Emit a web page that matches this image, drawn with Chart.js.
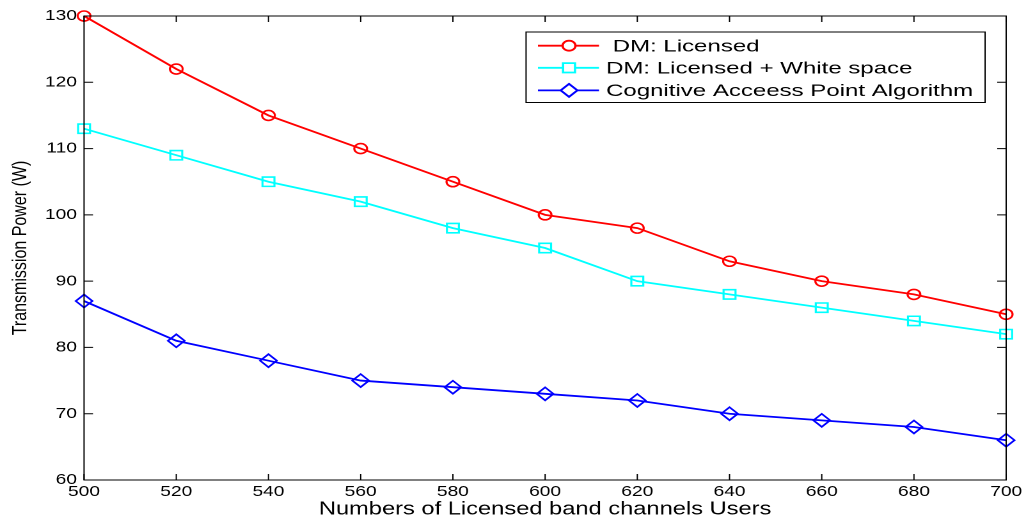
<!DOCTYPE html>
<html>
<head>
<meta charset="utf-8">
<script src="https://cdn.jsdelivr.net/npm/chart.js@4.4.1/dist/chart.umd.min.js"></script>
<style>
  html, body { margin: 0; padding: 0; background: #ffffff; overflow: hidden; }
  /* la figura original está estirada en horizontal, se reproduce con scaleX */
  #wrap { width: 802px; height: 522px; transform: scaleX(1.2793); transform-origin: 0 0; }
</style>
</head>
<body>
<div id="wrap"><canvas id="chartPower" width="802" height="522"></canvas></div>
<script>
// ============================================================
// DATOS
// ============================================================
const usuarios = [500, 520, 540, 560, 580, 600, 620, 640, 660, 680, 700];
const dmLicensed = [130, 122, 115, 110, 105, 100, 98, 93, 90, 88, 85];
const dmWhiteSpace = [113, 109, 105, 102, 98, 95, 90, 88, 86, 84, 82];
const capAlgorithm = [87, 81, 78, 75, 74, 73, 72, 70, 69, 68, 66];

const etiquetas = [' DM: Licensed', 'DM: Licensed + White space', 'Cognitive Acceess Point Algorithm'];
const colores = ['#ff0000', '#00ffff', '#0000ff'];
const marcadores = ['circle', 'rect', 'rectRot'];
const radios = [5, 6.6, 6.5];

const ticksX = [500, 520, 540, 560, 580, 600, 620, 640, 660, 680, 700];
const ticksY = [60, 70, 80, 90, 100, 110, 120, 130];

const FUENTE = "'Liberation Sans', Arial, Helvetica, sans-serif";

// ============================================================
// PLUGIN: marco, ticks hacia adentro y leyenda estilo MATLAB
// ============================================================
const marcoMatlab = {
    id: 'marcoMatlab',
    afterDatasetsDraw(chart) {
        const ctx = chart.ctx;
        const a = chart.chartArea;
        const sx = chart.scales.x, sy = chart.scales.y;
        ctx.save();
        ctx.strokeStyle = '#000000';
        ctx.lineWidth = 1;
        ctx.strokeRect(a.left, a.top, a.right - a.left, a.bottom - a.top);
        ctx.beginPath();
        ticksX.forEach(v => {
            let px = sx.getPixelForValue(v);
            ctx.moveTo(px, a.bottom); ctx.lineTo(px, a.bottom - 6);
            ctx.moveTo(px, a.top); ctx.lineTo(px, a.top + 6);
        });
        ticksY.forEach(v => {
            let py = sy.getPixelForValue(v);
            ctx.moveTo(a.left, py); ctx.lineTo(a.left + 7, py);
            ctx.moveTo(a.right, py); ctx.lineTo(a.right - 7, py);
        });
        ctx.stroke();
        ctx.restore();
    },
    afterDraw(chart) {
        const ctx = chart.ctx;
        const caja = { x: 411.2, y: 32, w: 358.8, h: 70.5 };
        const filas = [45.7, 67.8, 90.4];
        ctx.save();
        ctx.fillStyle = '#ffffff';
        ctx.fillRect(caja.x, caja.y, caja.w, caja.h);
        ctx.strokeStyle = '#000000';
        ctx.lineWidth = 1;
        ctx.strokeRect(caja.x, caja.y, caja.w, caja.h);

        ctx.font = '16.3px ' + FUENTE;
        // el texto de la leyenda es más ancho que el resto
        let k = 287 / ctx.measureText(etiquetas[2]).width;

        chart.data.datasets.forEach((ds, i) => {
            let y = filas[i];
            ctx.strokeStyle = colores[i];
            ctx.lineWidth = 1.8;
            ctx.beginPath();
            ctx.moveTo(420.5, y); ctx.lineTo(468.2, y);
            ctx.stroke();
            Chart.helpers.drawPoint(ctx, {
                pointStyle: marcadores[i], radius: radios[i], borderWidth: 1.6, rotation: 0
            }, 444.8, y);

            ctx.save();
            ctx.translate(473.7, y + 5.8);
            ctx.scale(k, 1);
            ctx.fillStyle = '#000000';
            ctx.textBaseline = 'alphabetic';
            ctx.fillText(etiquetas[i], 0, 0);
            ctx.restore();
        });
        ctx.restore();
    }
};

// ============================================================
// GRÁFICO
// ============================================================
function crearSerie(i, datos) {
    return {
        label: etiquetas[i],
        data: usuarios.map((u, j) => ({ x: u, y: datos[j] })),
        borderColor: colores[i],
        borderWidth: 1.8,
        pointStyle: marcadores[i],
        pointRadius: radios[i],
        pointHoverRadius: radios[i],
        pointBorderColor: colores[i],
        pointBackgroundColor: 'rgba(0,0,0,0)',
        pointBorderWidth: 1.6,
        tension: 0,
        clip: false
    };
}

const ctx = document.getElementById('chartPower').getContext('2d');
new Chart(ctx, {
    type: 'line',
    data: {
        datasets: [
            crearSerie(0, dmLicensed),
            crearSerie(1, dmWhiteSpace),
            crearSerie(2, capAlgorithm)
        ]
    },
    options: {
        responsive: false,
        animation: false,
        devicePixelRatio: 2,
        layout: { padding: { left: 0, right: 14.8, top: 16, bottom: 0 } },
        plugins: { legend: { display: false }, tooltip: { enabled: false } },
        scales: {
            x: {
                type: 'linear', min: 500, max: 700,
                afterBuildTicks: (s) => { s.ticks = ticksX.map(v => ({ value: v })); },
                afterFit: (s) => { s.height = 42; },
                grid: { display: false, drawTicks: false, tickLength: 0 },
                border: { display: false },
                ticks: { color: '#000000', padding: 3, maxRotation: 0, font: { family: FUENTE, size: 15 } },
                title: {
                    display: true, text: 'Numbers of Licensed band channels Users', color: '#000000',
                    font: { family: FUENTE, size: 18.5 }, padding: { top: 0, bottom: 1.5 }
                }
            },
            y: {
                min: 60, max: 130,
                afterBuildTicks: (s) => { s.ticks = ticksY.map(v => ({ value: v })); },
                afterFit: (s) => { s.width = 65.7; },
                grid: { display: false, drawTicks: false, tickLength: 0 },
                border: { display: false },
                ticks: { color: '#000000', padding: 5.5, font: { family: FUENTE, size: 15 } },
                title: {
                    display: true, text: 'Transmission Power (W)', color: '#000000',
                    font: { family: FUENTE, size: 16 }, padding: { top: 6.4, bottom: 0 }
                }
            }
        }
    },
    plugins: [marcoMatlab]
});
</script>
</body>
</html>
